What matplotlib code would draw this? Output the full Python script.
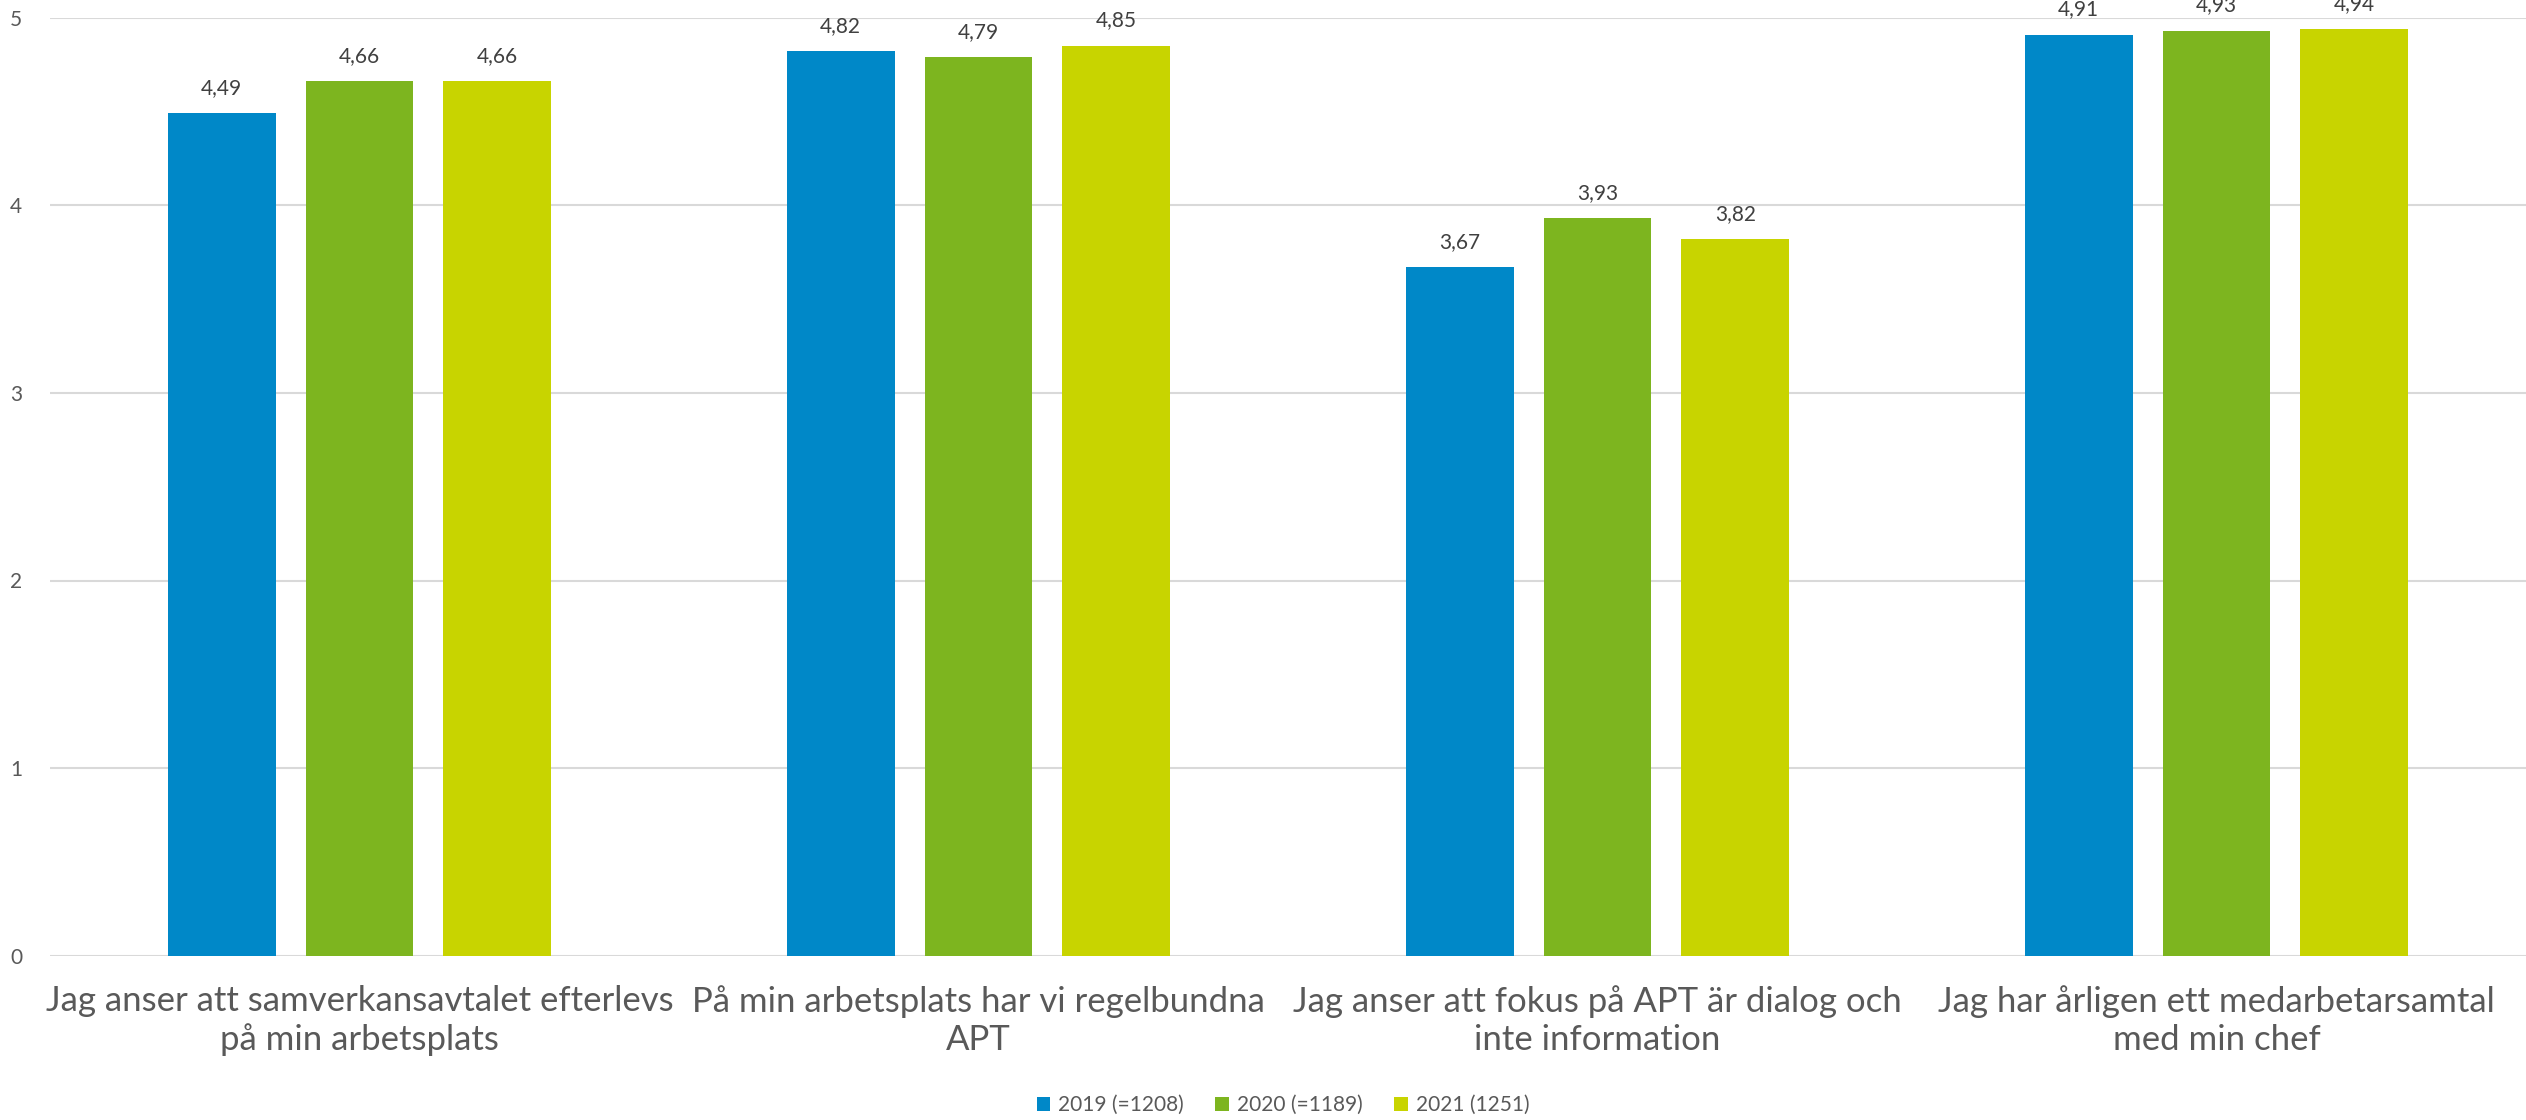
import matplotlib.pyplot as plt
import numpy as np

plt.rcParams['font.family'] = ['Lato', 'DejaVu Sans']

categories = [
    "Jag anser att samverkansavtalet efterlevs\npå min arbetsplats",
    "På min arbetsplats har vi regelbundna\nAPT",
    "Jag anser att fokus på APT är dialog och\ninte information",
    "Jag har årligen ett medarbetarsamtal\nmed min chef",
]
series_names = ["2019 (=1208)", "2020 (=1189)", "2021 (1251)"]
v2019 = [4.49, 4.82, 3.67, 4.91]
v2020 = [4.66, 4.79, 3.93, 4.93]
v2021 = [4.66, 4.85, 3.82, 4.94]
colors = ["#0088C8", "#7DB51F", "#C8D400"]

fig = plt.figure(figsize=(25.26, 11.2), dpi=100)
ax = fig.add_axes([50 / 2526, 1 - 955.7 / 1120, 1 - 50 / 2526, (955.7 - 17.7) / 1120])

x = np.arange(len(categories))
pitch = 0.2226
width = 0.174
for i, (vals, name, c) in enumerate(zip([v2019, v2020, v2021], series_names, colors)):
    bars = ax.bar(x + (i - 1) * pitch, vals, width, color=c, label=name, zorder=3)
    for b, v in zip(bars, vals):
        ax.annotate(f"{v:.2f}".replace(".", ","), (b.get_x() + b.get_width() / 2, v),
                    xytext=(0, 11), textcoords="offset points", ha="center", va="bottom",
                    fontsize=15, color="#404040", annotation_clip=False)

ax.set_xlim(-0.5, 3.5)
ax.set_ylim(0, 5)
ax.set_yticks(range(6))
ax.yaxis.grid(True, color="#D9D9D9", linewidth=1.5, zorder=0)
ax.set_xticks(x)
ax.set_xticklabels(categories, fontsize=25, color="#595959", linespacing=1.25)
ax.tick_params(axis="x", length=0, pad=21)
ax.tick_params(axis="y", length=0, pad=20, labelsize=15, labelcolor="#595959")
for s in ax.spines.values():
    s.set_visible(False)

fig.legend(loc="center", bbox_to_anchor=(0.508, 0.0134), ncol=3, frameon=False,
           fontsize=15, labelcolor="#595959", handlelength=0.65, handleheight=0.65,
           handletextpad=0.4, columnspacing=1.5)

fig.savefig("out.png", dpi=100)
